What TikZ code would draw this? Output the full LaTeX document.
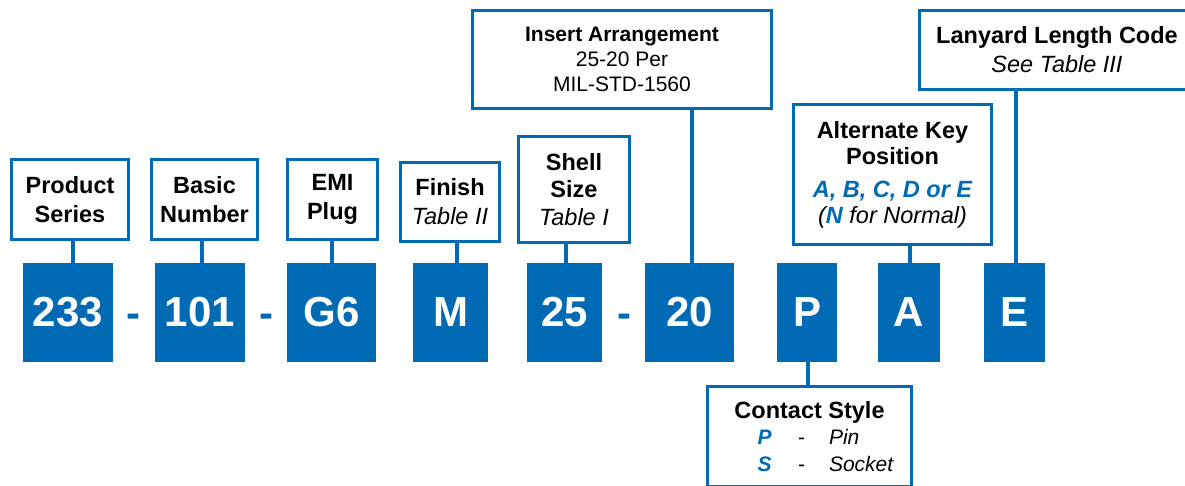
\documentclass[tikz,border=0pt]{standalone}
\usepackage{fontspec}
\setmainfont{Liberation Sans}
\definecolor{cblue}{RGB}{0,106,180}
\tikzset{
  codebox/.style={fill=cblue, text=white, inner sep=0pt, font=\fontsize{42}{42}\selectfont\bfseries},
  labbox/.style={draw=cblue, line width=3pt, fill=white, inner sep=0pt, align=center, font=\fontsize{23.5}{29}\selectfont},
  conn/.style={draw=cblue, line width=4pt},
  sepmark/.style={text=cblue, inner sep=0pt, anchor=base, font=\fontsize{42}{42}\selectfont\bfseries}
}
\begin{document}
\begin{tikzpicture}[x=1pt,y=-1pt]
\useasboundingbox (0,0) rectangle (1185,485);
\clip (0,0) rectangle (1185,485);
% code boxes
\node[codebox, minimum width=90pt, minimum height=99pt] (c233) at (68,312.5) {233};
\node[codebox, minimum width=90pt, minimum height=99pt] (c101) at (200,312.5) {101};
\node[codebox, minimum width=89pt, minimum height=99pt] (cg6) at (331.5,312.5) {G6};
\node[codebox, minimum width=75pt, minimum height=99pt] (cm) at (450.5,312.5) {M};
\node[codebox, minimum width=75pt, minimum height=99pt] (c25) at (564.5,312.5) {25};
\node[codebox, minimum width=89pt, minimum height=99pt] (c20) at (689.5,312.5) {20};
\node[codebox, minimum width=60pt, minimum height=99pt] (cp) at (807,312.5) {P};
\node[codebox, minimum width=62pt, minimum height=99pt] (ca) at (909,312.5) {A};
\node[codebox, minimum width=61pt, minimum height=99pt] (ce) at (1014.5,312.5) {E};
% separators
\node[sepmark] (s1) at (133,327) {-};
\node[sepmark] (s2) at (266,327) {-};
\node[sepmark] (s3) at (624,327) {-};
% label boxes
\node[labbox, minimum width=117pt, minimum height=80pt] (lprod) at (70,199.5) {\textbf{Product}\\\textbf{Series}};
\node[labbox, minimum width=106pt, minimum height=80pt] (lbasic) at (204.5,199.5) {\textbf{Basic}\\\textbf{Number}};
\node[labbox, minimum width=90pt, minimum height=80pt] (lemi) at (332.5,199.5) {\textbf{EMI}\\\textbf{Plug}};
\node[labbox, minimum width=99pt, minimum height=79pt] (lfin) at (450,202) {\textbf{Finish}\\\textit{Table II}};
\node[labbox, minimum width=111pt, minimum height=106pt, font=\fontsize{23.5}{27.5}\selectfont] (lshell) at (574,189.5) {\textbf{Shell}\\\textbf{Size}\\\textit{Table I}};
\node[labbox, minimum width=299pt, minimum height=98pt, font=\fontsize{21}{25}\selectfont] (lins) at (622,59.5) {\textbf{Insert Arrangement}\\25-20 Per\\MIL-STD-1560};
\node[labbox, minimum width=198pt, minimum height=140pt, font=\fontsize{23.5}{26}\selectfont] (lalt) at (892.5,174.5) {\textbf{Alternate Key}\\\textbf{Position}\\[7pt]\textcolor{cblue}{\bfseries\itshape A, B, C, D or E}\\\textit{(\textcolor{cblue}{\textbf{N}} for Normal)}};
\node[labbox, minimum width=275pt, minimum height=79pt] (llan) at (1057,50) {\textbf{Lanyard Length Code}\\\textit{See Table III}};
\node[labbox, minimum width=204pt, minimum height=100pt, font=\fontsize{23.5}{26}\selectfont] (lcon) at (809.5,436.5) {\textbf{Contact Style}\\{\fontsize{21}{26}\selectfont\hspace*{30pt}\makebox[19pt][c]{\textcolor{cblue}{\bfseries\itshape P}}\makebox[55pt][c]{-}\makebox[65pt][l]{\itshape Pin}}\\[1pt]{\fontsize{21}{26}\selectfont\hspace*{30pt}\makebox[19pt][c]{\textcolor{cblue}{\bfseries\itshape S}}\makebox[55pt][c]{-}\makebox[65pt][l]{\itshape Socket}}};
% connectors
\draw[conn] ([xshift=5pt]c233.north) -- ([xshift=5pt]c233.north |- lprod.south);
\draw[conn] ([xshift=2pt]c101.north) -- ([xshift=2pt]c101.north |- lbasic.south);
\draw[conn] ([xshift=0.5pt]cg6.north) -- ([xshift=0.5pt]cg6.north |- lemi.south);
\draw[conn] ([xshift=6.5pt]cm.north) -- ([xshift=6.5pt]cm.north |- lfin.south);
\draw[conn] ([xshift=1.5pt]c25.north) -- ([xshift=1.5pt]c25.north |- lshell.south);
\draw[conn] ([xshift=2.5pt]c20.north) -- ([xshift=2.5pt]c20.north |- lins.south);
\draw[conn] ([xshift=1pt]ca.north) -- ([xshift=1pt]ca.north |- lalt.south);
\draw[conn] ([xshift=1.5pt]ce.north) -- ([xshift=1.5pt]ce.north |- llan.south);
\draw[conn] ([xshift=1pt]cp.south) -- ([xshift=1pt]cp.south |- lcon.north);
\end{tikzpicture}
\end{document}
